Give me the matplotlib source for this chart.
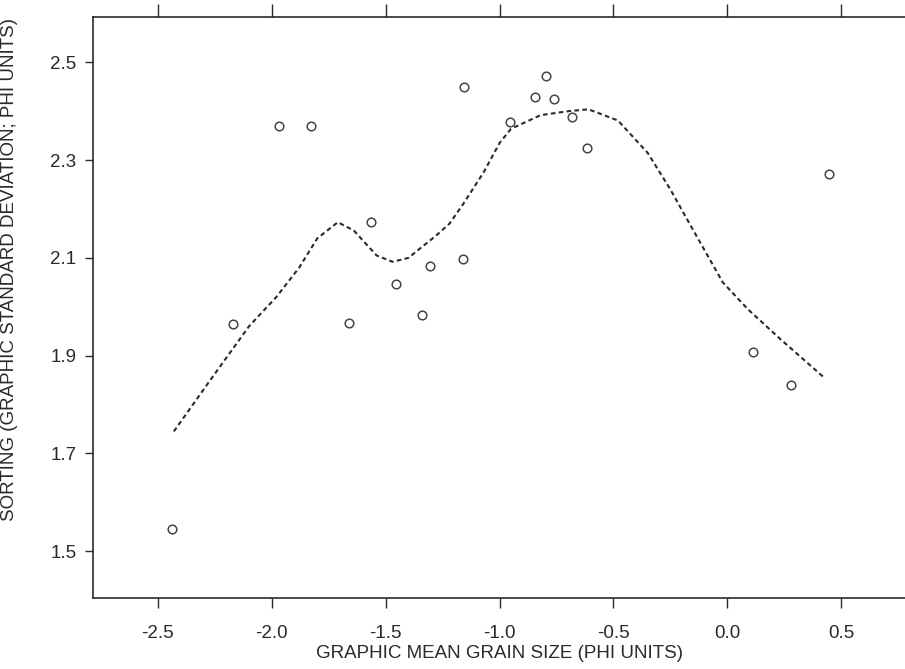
#!/usr/bin/env python3
"""Sorting vs graphic mean grain size, with smoothed trend."""
import matplotlib
matplotlib.use('Agg')
import matplotlib.pyplot as plt

# Sample points (phi units).
mean_size = [-2.436, -2.17, -1.97, -1.83, -1.661, -1.563, -1.456, -1.342,
             -1.305, -1.156, -1.160, -0.952, -0.845, -0.794, -0.762, -0.681,
             -0.614, 0.111, 0.28, 0.448]
sorting = [1.546, 1.964, 2.37, 2.37, 1.966, 2.173, 2.047, 1.984,
           2.083, 2.449, 2.097, 2.377, 2.430, 2.473, 2.425, 2.389,
           2.324, 1.907, 1.84, 2.272]

# Smoothed curve.
curve_x = [-2.43, -2.27, -2.10, -1.98, -1.88, -1.80, -1.71, -1.64, -1.54,
           -1.47, -1.40, -1.35, -1.28, -1.22, -1.16, -1.07, -1.00, -0.95,
           -0.82, -0.70, -0.61, -0.48, -0.35, -0.25, -0.16, -0.02, 0.09,
           0.23, 0.43]
curve_y = [1.745, 1.85, 1.96, 2.02, 2.08, 2.14, 2.173, 2.156, 2.105,
           2.092, 2.10, 2.119, 2.145, 2.17, 2.21, 2.275, 2.335, 2.364,
           2.392, 2.40, 2.404, 2.381, 2.315, 2.24, 2.165, 2.05, 1.995,
           1.935, 1.853]

x_ticks = [-2.5, -2.0, -1.5, -1.0, -0.5, 0.0, 0.5]
y_ticks = [1.5, 1.7, 1.9, 2.1, 2.3, 2.5]

plt.rcParams['font.family'] = ['Liberation Sans', 'DejaVu Sans']
ink = '#2a2a2a'

fig = plt.figure(figsize=(9.05, 6.69), dpi=100)
ax = fig.add_axes([0.103, 0.106, 0.897, 0.868])

ax.plot(curve_x, curve_y, color=ink, lw=1.5, ls=(0, (2.2, 1.6)))
ax.plot(mean_size, sorting, 'o', ms=6.2, mfc='white', mec='#444444',
        mew=1.1, ls='none')

ax.set_xlim(-2.784, 0.78)
ax.set_ylim(1.404, 2.592)
ax.set_xticks(x_ticks)
ax.set_xticklabels(['%.1f' % v for v in x_ticks])
ax.set_yticks(y_ticks)
ax.set_yticklabels(['%.1f' % v for v in y_ticks])

ax.spines['right'].set_visible(False)
for side in ('left', 'bottom', 'top'):
    ax.spines[side].set_color(ink)
    ax.spines[side].set_linewidth(1.2)

ax.tick_params(axis='x', which='both', top=True, labeltop=False,
               direction='out', length=7.5, width=1, color=ink,
               labelsize=13.5, labelcolor=ink, pad=12)
ax.tick_params(axis='y', direction='out', length=6, width=1, color=ink,
               labelsize=13.5, labelcolor=ink, pad=6)
# top ticks are a little longer than the bottom ones
for tick in ax.xaxis.get_major_ticks():
    tick.tick2line.set_markersize(9.5)

ax.set_xlabel('GRAPHIC MEAN GRAIN SIZE (PHI UNITS)', fontsize=13.5,
              color=ink)
ax.xaxis.set_label_coords(0.501, -0.080)
ax.set_ylabel('SORTING (GRAPHIC STANDARD DEVIATION; PHI UNITS)',
              fontsize=13.5, color=ink)
ax.yaxis.set_label_coords(-0.093, 0.566)

fig.savefig('out.png', dpi=100)
plt.close(fig)
